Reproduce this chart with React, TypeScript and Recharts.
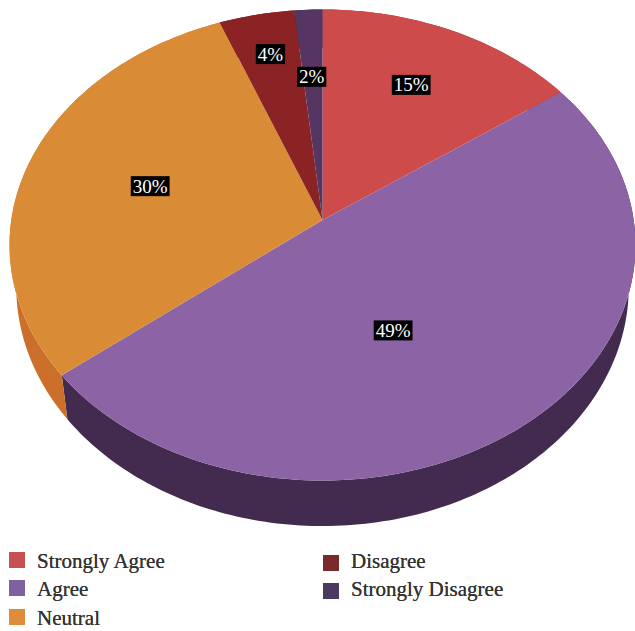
import React from "react";
import { PieChart, Pie, Legend } from "recharts";

const categories = ["Strongly Agree", "Agree", "Neutral", "Disagree", "Strongly Disagree"];
const shares = [15.1, 49.2, 29.8, 4.3, 1.6];

const topColors = ["#CD4B4A", "#8C64A6", "#D98C35", "#8B2325", "#553561"];
const wallColors = ["#A33A39", "#432B50", "#CB6F2A", "#6B1B1C", "#3A2444"];
const legendColors = ["#C84F4F", "#7F60A0", "#DD8C3A", "#7B2A2A", "#4C3962"];

const WIDTH = 635;
const HEIGHT = 631;
const FONT = '"Liberation Serif", serif';

// Perspective projection of a flat disc onto the screen.
const TILT = 0.10616;
const TOP_FACE = { cx: 322.5, A: 311.2, a: -209.5, b: 220 };
const BOTTOM_FACE = { cx: 322.5, A: 304.5, a: -208.55, b: 261.65 };

// Label displacement from the reference radius, in px, by slice.
const LABEL_RADIUS = 0.6;
const labelNudges = [
  [8, -17.5],
  [-48, -7],
  [5, 2],
  [-11, -38],
  [-2, -12],
];

const table = categories.map((name, i) => ({
  name,
  value: shares[i],
  fill: topColors[i],
  wall: wallColors[i],
}));

type Face = typeof TOP_FACE;

function project(face: Face, chartAngle: number, r = 1): [number, number] {
  const t = ((90 - chartAngle) * Math.PI) / 180;
  const u = Math.sin(t) * r;
  const v = Math.cos(t) * r;
  const w = 1 + TILT * v;
  return [face.cx + (face.A * u) / w, (face.a * v + face.b) / w];
}

function rim(face: Face, start: number, end: number): [number, number][] {
  const n = Math.max(2, Math.ceil(Math.abs(end - start)));
  const pts: [number, number][] = [];
  for (let i = 0; i <= n; i++) pts.push(project(face, start + ((end - start) * i) / n));
  return pts;
}

const toPath = (pts: [number, number][]) =>
  pts.map((p, i) => `${i ? "L" : "M"}${p[0].toFixed(2)},${p[1].toFixed(2)}`).join("") + "Z";

function TopSlice(props: any) {
  const pts = rim(TOP_FACE, props.startAngle, props.endAngle);
  const apex: [number, number] = [TOP_FACE.cx, TOP_FACE.b];
  return <path d={toPath([apex, ...pts])} fill={props.fill} stroke="none" />;
}

function WallSlice(props: any) {
  const upper = rim(TOP_FACE, props.startAngle, props.endAngle);
  const lower = rim(BOTTOM_FACE, props.startAngle, props.endAngle).reverse();
  return <path d={toPath([...upper, ...lower])} fill={props.wall} stroke="none" />;
}

function SliceLabel(props: any) {
  const { midAngle, percent, index } = props;
  const [px, py] = project(TOP_FACE, midAngle, LABEL_RADIUS);
  const x = px + labelNudges[index][0];
  const y = py + labelNudges[index][1];
  const text = `${Math.round(percent * 100)}%`;
  const w = (text.length - 1) * 9.5 + 15.8 + 4;
  const h = 20;
  return (
    <g>
      <rect x={x - w / 2} y={y - h / 2} width={w} height={h} fill="#000000" />
      <text
        x={x}
        y={y + 6.5}
        textAnchor="middle"
        fill="#FFFFFF"
        fontFamily={FONT}
        fontSize={19}
      >
        {text}
      </text>
    </g>
  );
}

const legendSlots = [
  { x: 9, y: 552 },
  { x: 9, y: 580 },
  { x: 9, y: 609 },
  { x: 323, y: 555 },
  { x: 323, y: 583 },
];

function LegendBlock(props: any) {
  const items = (props.payload || []) as any[];
  return (
    <div style={{ position: "absolute", left: 0, top: 0, width: WIDTH, height: HEIGHT }}>
      {items.map((item, i) => {
        const idx = categories.indexOf(item.value);
        const slot = legendSlots[idx];
        return (
          <React.Fragment key={i}>
            <div
              style={{
                position: "absolute",
                left: slot.x,
                top: slot.y,
                width: 16,
                height: 16,
                background: legendColors[idx],
              }}
            />
            <div
              style={{
                position: "absolute",
                left: slot.x + 28,
                top: idx > 2 ? slot.y - 6 : slot.y - 3,
                height: 24,
                lineHeight: "24px",
                fontFamily: FONT,
                fontSize: 21,
                color: "#333333",
                whiteSpace: "nowrap",
              }}
            >
              {item.value}
            </div>
          </React.Fragment>
        );
      })}
    </div>
  );
}

export default function App() {
  return (
    <div style={{ position: "absolute", left: 0, top: 0, width: WIDTH, height: HEIGHT }}>
      <PieChart width={WIDTH} height={HEIGHT} margin={{ top: 0, right: 0, bottom: 0, left: 0 }}>
        <Pie
          data={table}
          dataKey="value"
          nameKey="name"
          cx={TOP_FACE.cx}
          cy={TOP_FACE.b}
          outerRadius={200}
          startAngle={90}
          endAngle={-270}
          stroke="none"
          legendType="none"
          isAnimationActive={false}
          shape={WallSlice}
        />
        <Pie
          data={table}
          dataKey="value"
          nameKey="name"
          cx={TOP_FACE.cx}
          cy={TOP_FACE.b}
          outerRadius={200}
          startAngle={90}
          endAngle={-270}
          stroke="none"
          isAnimationActive={false}
          shape={TopSlice}
          label={SliceLabel}
          labelLine={false}
        />
        <Legend
          content={LegendBlock}
          wrapperStyle={{ position: "absolute", left: 0, top: 0, width: WIDTH, height: 0 }}
        />
      </PieChart>
    </div>
  );
}
